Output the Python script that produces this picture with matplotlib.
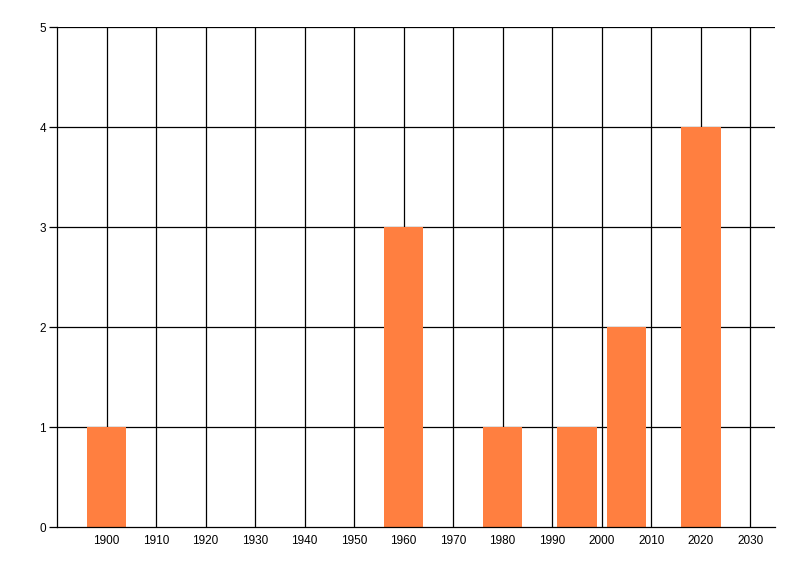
import numpy as np
import matplotlib.pyplot as plt

years = [1900, 1960, 1980, 1995, 2005, 2020]
counts = [1, 3, 1, 1, 2, 4]
xticks = list(range(1900, 2031, 10))
yticks = [0, 1, 2, 3, 4, 5]

plt.rcParams['font.family'] = ['Liberation Sans', 'DejaVu Sans']

fig = plt.figure(figsize=(8, 5.76), dpi=100)
ax = fig.add_axes([0.07125, 0.085, 0.8975, 0.868])

for y in yticks[1:]:
    ax.axhline(y, color='black', lw=0.9, zorder=1)
for x in xticks:
    ax.axvline(x, color='black', lw=0.9, zorder=1)

ax.bar(years, counts, width=8, color='#FF7F40', zorder=2)

ax.set_xlim(1890, 2035)
ax.set_ylim(0, 5)
ax.set_xticks(xticks)
ax.set_yticks(yticks)
ax.tick_params(axis='x', length=0, pad=6, labelsize=8.5)
ax.tick_params(axis='y', length=6, width=0.9, pad=2, labelsize=8.5)
for s in ['top', 'right']:
    ax.spines[s].set_visible(False)
for s in ['left', 'bottom']:
    ax.spines[s].set_linewidth(0.9)
    ax.spines[s].set_zorder(3)

fig.savefig('out.png', dpi=100)
